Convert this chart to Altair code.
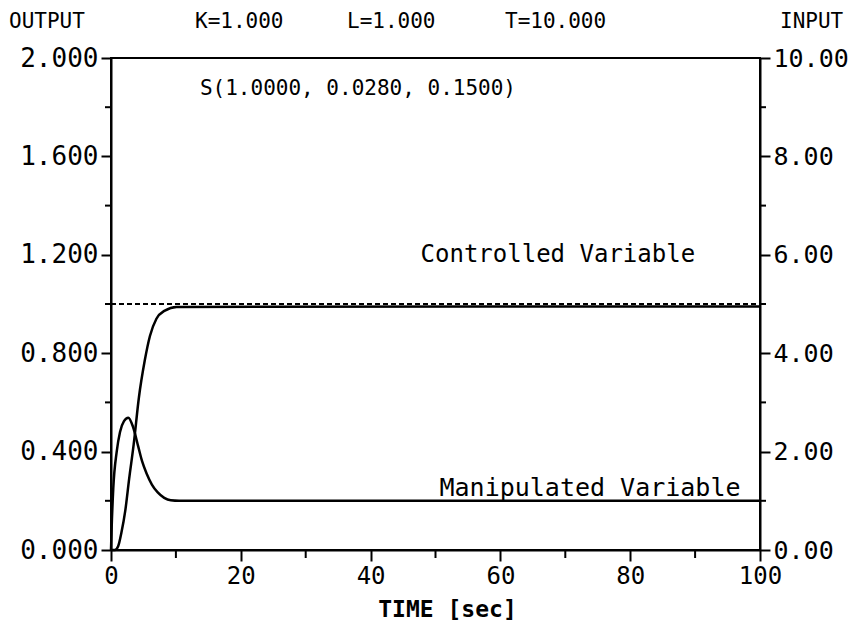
import altair as alt
import pandas as pd

# ---- data ----
ctrl_t = [0, 0.6, 1.1, 1.6, 2.2, 2.8, 3.5, 4.3, 5.2, 6.0, 7.0, 8.3, 10.1, 100]
ctrl_v = [0, 0.0, 0.015, 0.07, 0.16, 0.29, 0.43, 0.62, 0.77, 0.87, 0.94, 0.973, 0.988, 0.99]

manip_t = [0, 0.1, 0.35, 0.88, 1.39, 2.0, 2.67, 3.4, 4.2, 4.8, 5.5, 6.3, 7.2, 8.2, 9.2, 10.5, 100]
manip_v = [0, 0.45, 1.25, 2.0, 2.4, 2.62, 2.69, 2.5, 2.1, 1.8, 1.55, 1.33, 1.17, 1.06, 1.01, 1.0, 1.0]

setpoint_t = [0, 100]
setpoint_v = [1.0, 1.0]

left_major = [0, 0.4, 0.8, 1.2, 1.6, 2.0]
left_minor = [0.2, 0.6, 1.0, 1.4, 1.8]
right_major = [0, 2, 4, 6, 8, 10]
right_minor = [1, 3, 5, 7, 9]
x_major = [0, 20, 40, 60, 80, 100]
x_minor = [10, 30, 50, 70, 90]

header_texts = ["OUTPUT", "K=1.000", "L=1.000", "T=10.000", "INPUT"]
param_text = ["S(1.0000, 0.0280, 0.1500)"]
param_at = ([13.7], [1.874])
ctrl_label = ["Controlled Variable"]
ctrl_label_at = ([90], [1.2])
manip_label = ["Manipulated Variable"]
manip_label_at = ([97], [0.252])

FONT = "DejaVu Sans Mono"
W, H = 649, 492

xs = alt.Scale(domain=[0, 100], nice=False, zero=False)
ys_left = alt.Scale(domain=[0, 2], nice=False)
ys_right = alt.Scale(domain=[0, 10], nice=False)

common_axis = dict(tickWidth=2, tickColor="black", domainColor="black", domainWidth=2,
                   labelFont=FONT, labelColor="black", labelFlush=False,
                   labelOverlap=False, grid=False)

x_axis = alt.Axis(values=x_major, format="d", tickSize=11, labelFontSize=24, labelPadding=3,
                  title="TIME [sec]", titleFont=FONT, titleFontSize=23, titleFontWeight="bold",
                  titleColor="black", titlePadding=10, titleX=336, **common_axis)
left_axis = alt.Axis(values=left_major, format=".3f", tickSize=10, labelFontSize=26,
                     labelPadding=3, title="", **common_axis)
right_axis = alt.Axis(orient="right", values=right_major, format=".2f", tickSize=10,
                      labelFontSize=25, labelPadding=3, title="", **common_axis)

X = lambda: alt.X("t:Q", scale=xs, axis=x_axis)
YL = lambda: alt.Y("v:Q", scale=ys_left, axis=left_axis)
YR = lambda: alt.Y("v:Q", scale=ys_right, axis=right_axis)

df_ctrl = pd.DataFrame({"t": ctrl_t, "v": ctrl_v})
df_manip = pd.DataFrame({"t": manip_t, "v": manip_v})
df_set = pd.DataFrame({"t": setpoint_t, "v": setpoint_v})

ctrl = alt.Chart(df_ctrl).mark_line(color="black", strokeWidth=2.5, interpolate="monotone").encode(
    x=X(), y=YL())

setp = alt.Chart(df_set).mark_line(color="black", strokeWidth=2, strokeDash=[5, 3]).encode(
    x=X(), y=YL())

left_minor_ticks = alt.Chart(pd.DataFrame({"v": left_minor})).mark_rule(color="black", strokeWidth=2).encode(
    y=YL(), x=alt.value(-6), x2=alt.value(0))

x_minor_ticks = alt.Chart(pd.DataFrame({"t": x_minor})).mark_rule(color="black", strokeWidth=2).encode(
    x=X(), y=alt.value(H), y2=alt.value(H + 8))

def note(text, at, size, align):
    df = pd.DataFrame({"t": at[0], "v": at[1], "label": text})
    return alt.Chart(df).mark_text(font=FONT, fontSize=size, color="black", align=align,
                                   baseline="middle").encode(
        x=X(), y=YL(), text="label:N")

param_note = note(param_text, param_at, 21, "left")
ctrl_note = note(ctrl_label, ctrl_label_at, 24, "right")
manip_note = note(manip_label, manip_label_at, 25, "right")

header_x = [-102, 84, 236, 394, 669]
headers = [
    alt.Chart(pd.DataFrame({"label": [txt]})).mark_text(
        font=FONT, fontSize=21, color="black", align="left", baseline="middle"
    ).encode(x=alt.value(px), y=alt.value(-36), text="label:N")
    for txt, px in zip(header_texts, header_x)
]

left_group = alt.layer(ctrl, setp, left_minor_ticks, x_minor_ticks,
                       param_note, ctrl_note, manip_note, *headers)

manip = alt.Chart(df_manip).mark_line(color="black", strokeWidth=2.5, interpolate="monotone").encode(
    x=X(), y=YR())

right_minor_ticks = alt.Chart(pd.DataFrame({"v": right_minor})).mark_rule(color="black", strokeWidth=2).encode(
    y=YR(), x=alt.value(W), x2=alt.value(W + 6))

right_group = alt.layer(manip, right_minor_ticks)

chart = alt.layer(left_group, right_group).resolve_scale(y="independent").properties(
    width=W, height=H,
    padding={"left": 103, "top": 50, "right": 92, "bottom": 75},
    autosize=alt.AutoSizeParams(type="none"),
    background="white",
).configure_view(stroke="black", strokeWidth=2)

chart.save("out.html", embed_options={"renderer": "svg", "actions": False})
